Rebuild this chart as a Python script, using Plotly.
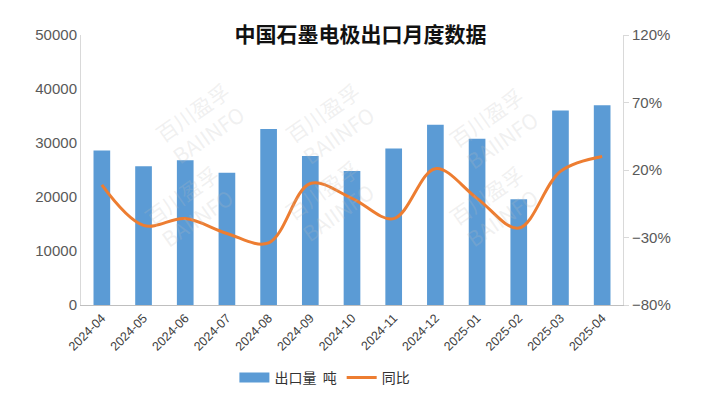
import plotly.graph_objects as go

months = ["2024-04", "2024-05", "2024-06", "2024-07", "2024-08", "2024-09", "2024-10",
          "2024-11", "2024-12", "2025-01", "2025-02", "2025-03", "2025-04"]
export_tons = [28600, 25700, 26800, 24500, 32600, 27600, 24800, 29000, 33400, 30800, 19600, 36000, 37000]
yoy_pct = [9, -21, -16, -27, -34, 10, -1, -16, 21, -1, -23, 19, 30]

left_ticks = [0, 10000, 20000, 30000, 40000, 50000]
right_ticks = [-80, -30, 20, 70, 120]
right_labels = ["−80%", "−30%", "20%", "70%", "120%"]

BAR_COLOR = "#5B9BD5"
LINE_COLOR = "#ED7D31"

fig = go.Figure()
fig.add_trace(go.Bar(
    x=months, y=export_tons, name="出口量 吨",
    marker=dict(color=BAR_COLOR, line=dict(width=0)),
    yaxis="y", showlegend=False,
))
# legend stand-in for the bar series (wide rectangle symbol)
fig.add_trace(go.Scatter(
    x=[None], y=[None], name="出口量  吨", mode="lines",
    line=dict(color=BAR_COLOR, width=11), yaxis="y",
))
fig.add_trace(go.Scatter(
    x=months, y=yoy_pct, name="同比", mode="lines",
    line=dict(color=LINE_COLOR, width=3, shape="spline", smoothing=1.0),
    yaxis="y2",
))

# watermarks
wm = [(0.12, 0.86), (0.46, 0.86), (0.86, 0.84), (0.1, 0.18), (0.46, 0.2), (0.86, 0.18)]
for (wx, wy) in wm:
    fig.add_annotation(x=wx, y=wy, xref="paper", yref="paper",
                       text="百川盈孚<br>BAIINFO", showarrow=False, textangle=-35,
                       font=dict(size=21, color="rgba(190,190,190,0.22)",
                                 family="Noto Sans CJK SC"))

fig.update_layout(
    width=701, height=398,
    margin=dict(l=73, r=86, t=27, b=91),
    paper_bgcolor="white", plot_bgcolor="white",
    font=dict(family="Liberation Sans, Noto Sans CJK SC", color="#404040"),
    title=dict(text="<b>中国石墨电极出口月度数据</b>", x=0.503, xanchor="center",
               y=0.932, yanchor="middle",
               font=dict(size=21, family="Noto Sans CJK SC", color="#111111")),
    bargap=0.6,
    showlegend=True,
    legend=dict(orientation="h", x=0.45, xanchor="center", y=-0.27, yanchor="middle",
                font=dict(size=14, family="Noto Sans CJK SC", color="#333333"),
                traceorder="normal"),
    xaxis=dict(type="category", tickangle=-45, showline=True, linecolor="#BFBFBF",
               linewidth=1, ticks="", tickfont=dict(size=12.5, color="#404040"),
               showgrid=False, zeroline=False),
    yaxis=dict(range=[0, 50000], tickvals=left_ticks, tickformat="d", showline=True,
               linecolor="#D9D9D9", showgrid=False, zeroline=False, ticks="",
               tickfont=dict(size=15, color="#595959")),
    yaxis2=dict(range=[-80, 120], tickvals=right_ticks, ticktext=right_labels,
                overlaying="y", side="right", showline=True, linecolor="#D9D9D9",
                ticks="outside", ticklen=5, tickcolor="#D9D9D9",
                showgrid=False, zeroline=False,
                tickfont=dict(size=15, color="#595959")),
)

fig.write_html("out.html")
